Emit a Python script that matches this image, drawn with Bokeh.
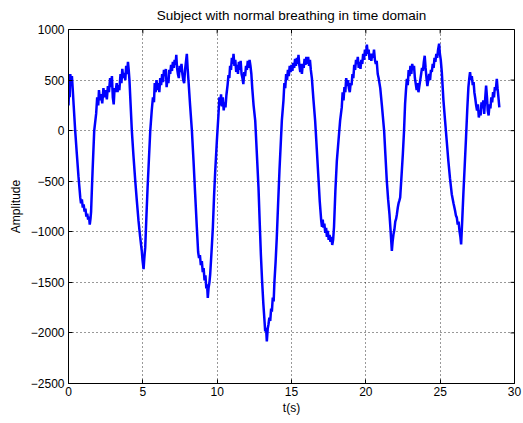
import math
from bokeh.plotting import figure
from bokeh.models import FixedTicker, Range1d
from bokeh.embed import file_html
from bokeh.resources import INLINE

# (time in s, amplitude) pairs, section by section
segments = [
    # start and first trough
    [(0.0, 250), (0.04, 420), (0.08, 330), (0.12, 560), (0.17, 470), (0.23, 540), (0.28, 420),
     (0.34, 268), (0.45, 0), (0.56, -230), (0.67, -450), (0.79, -660), (0.84, -720), (0.9, -680),
     (0.96, -760), (1.02, -730), (1.08, -800), (1.14, -770), (1.2, -850), (1.26, -820), (1.32, -880),
     (1.38, -850), (1.43, -930), (1.48, -870), (1.52, -800), (1.58, -550), (1.62, -397), (1.73, 0),
     (1.86, 168)],
    # plateau 1
    [(1.93, 330), (2.0, 250), (2.05, 400), (2.12, 300), (2.2, 360), (2.27, 270), (2.35, 420),
     (2.42, 330), (2.5, 400), (2.58, 310), (2.65, 440), (2.72, 380), (2.8, 520), (2.86, 430),
     (2.92, 540), (2.98, 330), (3.04, 260), (3.1, 420), (3.17, 380), (3.24, 470), (3.3, 380),
     (3.36, 450), (3.42, 400), (3.5, 560), (3.56, 470), (3.62, 610), (3.68, 520), (3.75, 570),
     (3.82, 500), (3.88, 640), (3.94, 560), (4.0, 680), (4.05, 600), (4.1, 500)],
    # trough 2
    [(4.18, 250), (4.26, 0), (4.37, -250), (4.49, -496), (4.6, -700), (4.71, -893), (4.82, -1050),
     (4.93, -1190), (4.98, -1280), (5.05, -1369), (5.1, -1260), (5.16, -1157), (5.24, -850),
     (5.32, -562), (5.41, -280), (5.5, 0), (5.6, 200), (5.68, 330)],
    # plateau 2
    [(5.75, 280), (5.8, 470), (5.86, 380), (5.92, 500), (5.98, 400), (6.05, 470), (6.11, 380),
     (6.17, 520), (6.23, 450), (6.3, 560), (6.36, 480), (6.42, 600), (6.48, 540), (6.55, 610),
     (6.6, 430), (6.66, 520), (6.72, 470), (6.78, 600), (6.84, 560), (6.9, 650), (6.96, 590),
     (7.02, 680), (7.08, 620), (7.14, 700), (7.2, 650), (7.25, 750), (7.3, 620), (7.36, 560),
     (7.42, 520), (7.48, 640), (7.54, 580), (7.6, 660), (7.66, 560), (7.72, 500), (7.78, 470),
     (7.84, 600), (7.9, 680), (7.96, 760), (8.02, 600), (8.07, 496)],
    # trough 3
    [(8.18, 250), (8.3, 0), (8.41, -300), (8.52, -628), (8.63, -950), (8.72, -1200), (8.78, -1260),
     (8.84, -1230), (8.9, -1330), (8.97, -1290), (9.03, -1400), (9.09, -1360), (9.15, -1480),
     (9.21, -1430), (9.27, -1560), (9.32, -1520), (9.37, -1654), (9.42, -1560), (9.48, -1500),
     (9.53, -1422), (9.62, -1200), (9.71, -959), (9.79, -650), (9.87, -397), (9.98, -100),
     (10.09, 165)],
    # plateau 3
    [(10.15, 330), (10.2, 250), (10.26, 360), (10.32, 240), (10.38, 330), (10.44, 200), (10.5, 280),
     (10.56, 230), (10.62, 350), (10.7, 450), (10.76, 550), (10.82, 520), (10.87, 640), (10.93, 600),
     (10.99, 720), (11.05, 660), (11.1, 760), (11.16, 640), (11.22, 700), (11.28, 580), (11.34, 650),
     (11.4, 560), (11.46, 680), (11.52, 600), (11.58, 690), (11.64, 560), (11.7, 520), (11.76, 460),
     (11.82, 580), (11.88, 540), (11.94, 640), (12.0, 600), (12.06, 690), (12.12, 620),
     (12.18, 700), (12.24, 640), (12.3, 560), (12.36, 420)],
    # trough 4 (deepest)
    [(12.45, 250), (12.56, 99), (12.67, -230), (12.78, -562), (12.86, -900), (12.94, -1224),
     (13.02, -1480), (13.11, -1720), (13.17, -1850), (13.23, -1984), (13.29, -1950), (13.34, -2083),
     (13.4, -1960), (13.45, -1917), (13.51, -1850), (13.57, -1880), (13.63, -1760), (13.68, -1790),
     (13.74, -1650), (13.8, -1690), (13.85, -1500), (13.93, -1300), (14.01, -1058), (14.1, -720),
     (14.19, -397), (14.27, -150), (14.35, 99), (14.46, 300)],
    # plateau 4
    [(14.52, 470), (14.58, 420), (14.64, 560), (14.7, 500), (14.76, 600), (14.82, 540), (14.88, 640),
     (14.94, 580), (15.0, 650), (15.06, 590), (15.12, 670), (15.18, 620), (15.24, 710), (15.3, 640),
     (15.36, 720), (15.42, 660), (15.47, 750), (15.53, 640), (15.59, 580), (15.65, 660), (15.7, 560),
     (15.76, 660), (15.82, 620), (15.88, 710), (15.94, 650), (16.0, 730), (16.06, 660), (16.12, 730),
     (16.18, 640), (16.24, 700), (16.3, 600), (16.37, 520)],
    # trough 5
    [(16.48, 300), (16.59, 99), (16.7, -180), (16.81, -463), (16.9, -700), (17.0, -893), (17.05, -950),
     (17.1, -880), (17.15, -960), (17.21, -920), (17.27, -1010), (17.33, -960), (17.38, -1050),
     (17.44, -990), (17.5, -1080), (17.56, -1030), (17.62, -1100), (17.68, -1050), (17.74, -1130),
     (17.8, -1080), (17.86, -950), (17.95, -600), (18.05, -298), (18.16, -100), (18.27, 99),
     (18.38, 230)],
    # plateau 5
    [(18.44, 380), (18.5, 300), (18.56, 430), (18.62, 380), (18.68, 520), (18.74, 440), (18.8, 500),
     (18.86, 420), (18.92, 380), (18.98, 470), (19.04, 450), (19.1, 560), (19.16, 520), (19.22, 650),
     (19.28, 600), (19.34, 700), (19.4, 660), (19.46, 730), (19.52, 620), (19.58, 680), (19.64, 610),
     (19.7, 700), (19.76, 660), (19.82, 760), (19.88, 700), (19.94, 800), (20.0, 740), (20.07, 850),
     (20.13, 760), (20.19, 800), (20.25, 700), (20.31, 760), (20.37, 690), (20.43, 760), (20.49, 720),
     (20.55, 800), (20.61, 700), (20.67, 660), (20.73, 690), (20.8, 560), (20.86, 520)],
    # trough 6
    [(20.97, 420), (21.08, 250), (21.23, 0), (21.32, -250), (21.41, -496), (21.5, -680), (21.59, -826),
     (21.67, -1000), (21.75, -1190), (21.8, -1100), (21.86, -1025), (21.92, -980), (21.98, -900),
     (22.04, -870), (22.09, -826), (22.15, -760), (22.2, -720), (22.26, -690), (22.31, -661),
     (22.4, -450), (22.49, -231), (22.57, 0), (22.64, 265), (22.7, 400)],
    # plateau 6
    [(22.76, 513), (22.82, 450), (22.88, 600), (22.94, 540), (23.0, 640), (23.06, 560), (23.12, 660),
     (23.18, 600), (23.24, 640), (23.3, 520), (23.36, 460), (23.42, 400), (23.48, 470), (23.54, 380),
     (23.6, 440), (23.66, 500), (23.72, 560), (23.78, 620), (23.84, 590), (23.9, 680), (23.96, 740),
     (24.02, 620), (24.08, 520), (24.14, 440), (24.2, 500), (24.26, 560), (24.32, 500), (24.38, 600),
     (24.44, 580), (24.5, 660), (24.56, 620), (24.62, 720), (24.68, 680), (24.74, 760), (24.8, 720),
     (24.86, 800), (24.93, 860), (24.98, 760), (25.04, 700), (25.11, 580)],
    # trough 7
    [(25.22, 300), (25.33, 99), (25.44, -100), (25.55, -298), (25.66, -470), (25.78, -628), (25.9, -720),
     (26.0, -790), (26.06, -840), (26.12, -860), (26.18, -930), (26.24, -900), (26.3, -992),
     (26.36, -1050), (26.41, -1124), (26.48, -900), (26.56, -628), (26.65, -350), (26.74, -66),
     (26.82, 200), (26.9, 430)],
    # final plateau
    [(26.96, 520), (27.01, 579), (27.07, 500), (27.13, 540), (27.19, 450), (27.25, 480), (27.3, 380),
     (27.36, 320), (27.42, 250), (27.48, 200), (27.54, 260), (27.6, 130), (27.66, 200), (27.72, 150),
     (27.78, 280), (27.84, 220), (27.9, 300), (27.96, 165), (28.02, 300), (28.09, 446), (28.15, 330),
     (28.2, 200), (28.26, 150), (28.32, 260), (28.38, 220), (28.44, 330), (28.5, 280), (28.56, 380),
     (28.62, 330), (28.68, 430), (28.74, 400), (28.81, 513), (28.86, 420), (28.92, 330), (28.98, 231)],
]
t = [pt[0] for seg in segments for pt in seg]
amplitude = [pt[1] for seg in segments for pt in seg]

x_ticks = [0, 5, 10, 15, 20, 25, 30]
y_ticks = [1000, 500, 0, -500, -1000, -1500, -2000, -2500]

FONT = "Liberation Sans"

p = figure(width=523, height=423, output_backend="svg", toolbar_location=None,
           x_range=Range1d(x_ticks[0], x_ticks[-1]), y_range=Range1d(y_ticks[-1], y_ticks[0]),
           title="Subject with normal breathing in time domain",
           x_axis_label="t(s)", y_axis_label="Amplitude",
           min_border_left=68, min_border_right=9, min_border_top=29, min_border_bottom=40)

p.line(t, amplitude, line_color="#0000FF", line_width=2.5)

# mirrored tick marks on the top and right edges of the box (half clipped by the frame)
p.scatter(x_ticks, [y_ticks[0]] * len(x_ticks), marker="dash", angle=math.pi / 2, size=8,
          line_color="#000000", line_width=1)
p.scatter([x_ticks[-1]] * len(y_ticks), y_ticks, marker="dash", size=8,
          line_color="#000000", line_width=1)

p.title.align = "center"
p.title.vertical_align = "top"
p.title.text_font = FONT
p.title.text_font_size = "13.5px"
p.title.text_font_style = "normal"
p.title.text_color = "#000000"

p.outline_line_color = "#000000"
p.outline_line_width = 1
p.outline_line_alpha = 1
p.background_fill_color = "white"
p.border_fill_color = "white"

for g in (p.xgrid, p.ygrid):
    g.grid_line_color = "#000000"
    g.grid_line_dash = "1 3"
    g.grid_line_width = 1
    g.grid_line_alpha = 0.8
p.xgrid.ticker = FixedTicker(ticks=x_ticks)
p.ygrid.ticker = FixedTicker(ticks=y_ticks)

for ax, ticks in ((p.xaxis[0], x_ticks), (p.yaxis[0], y_ticks)):
    ax.ticker = FixedTicker(ticks=ticks)
    ax.major_tick_in = 4
    ax.major_tick_out = 0
    ax.minor_tick_line_color = None
    ax.axis_line_color = "#000000"
    ax.major_tick_line_color = "#000000"
    ax.major_label_text_font = FONT
    ax.major_label_text_font_size = "12px"
    ax.major_label_text_color = "#000000"
    ax.axis_label_text_font = FONT
    ax.axis_label_text_font_size = "12px"
    ax.axis_label_text_font_style = "normal"
    ax.axis_label_text_color = "#000000"

p.xaxis[0].major_label_standoff = 3
p.xaxis[0].axis_label_standoff = 2
p.yaxis[0].major_label_standoff = 4
p.yaxis[0].axis_label_standoff = 5
p.yaxis[0].major_label_orientation = "horizontal"

open("out.html", "w").write(file_html(p, INLINE))
